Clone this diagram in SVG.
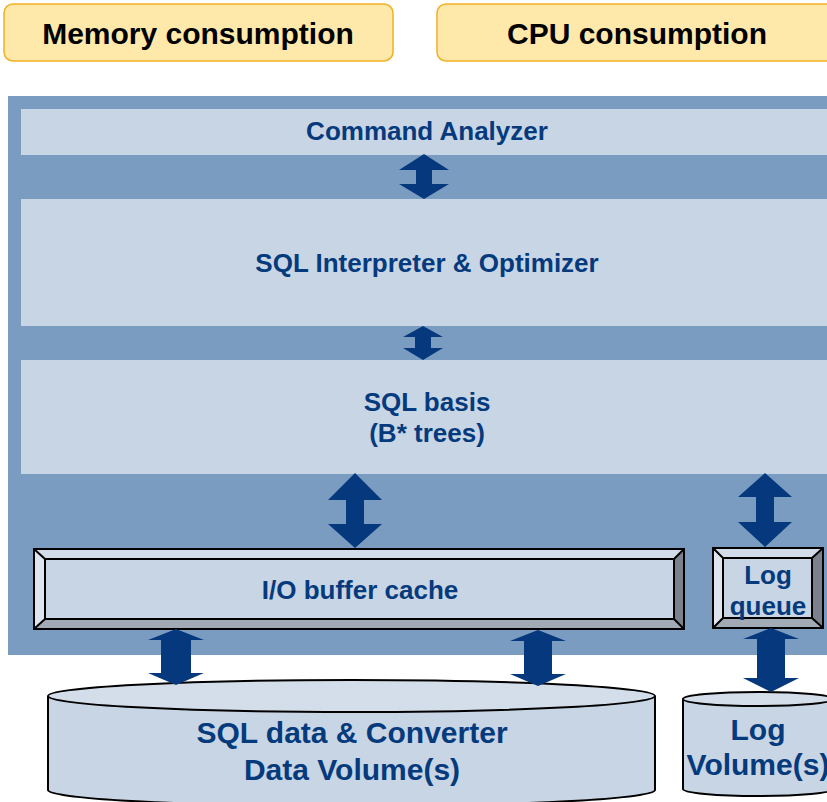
<svg xmlns="http://www.w3.org/2000/svg" width="827" height="802" viewBox="0 0 827 802">
  <style>
    .tag { fill: #FEE8AA; stroke: #F2B024; stroke-width: 1.5; }
    .tagtxt { font-family: "Liberation Sans", Arial, sans-serif; font-weight: bold; font-size: 30px; fill: #000; text-anchor: middle; }
    .panel { fill: #7B9CC1; }
    .band { fill: #C8D5E4; }
    .lbl { font-family: "Liberation Sans", Arial, sans-serif; font-weight: bold; font-size: 26px; fill: #053A7D; text-anchor: middle; }
    .lbl30 { font-family: "Liberation Sans", Arial, sans-serif; font-weight: bold; font-size: 30px; fill: #053A7D; text-anchor: middle; }
    .bev-top { fill: #D2DCE9; }
    .bev-left { fill: #DEE5EF; }
    .bev-right { fill: #7B828D; }
    .bev-bot { fill: #A2AAB5; }
    .bevline { fill: none; stroke: #000; stroke-width: 2; }
    .face { fill: #C8D5E4; stroke: #000; stroke-width: 2; }
    .cyl-body { fill: #C8D5E4; stroke: #000; stroke-width: 2; }
    .cyl-top { fill: #D4DEEA; stroke: #000; stroke-width: 2; }
    .arrow { fill: #05387C; }
  </style>

  <!-- consumption labels -->
  <g id="memory-consumption">
    <rect class="tag" x="4" y="4" width="389" height="57" rx="9"/>
    <text class="tagtxt" x="198" y="44">Memory consumption</text>
  </g>
  <g id="cpu-consumption">
    <rect class="tag" x="437" y="4" width="400" height="57" rx="9"/>
    <text class="tagtxt" x="637" y="44">CPU consumption</text>
  </g>

  <!-- database kernel panel -->
  <g id="kernel">
    <rect class="panel" x="8" y="96" width="830" height="559"/>
  </g>

  <g id="command-analyzer">
    <rect class="band" x="21" y="109" width="817" height="46"/>
    <text class="lbl" x="427" y="140">Command Analyzer</text>
  </g>

  <g id="sql-interpreter">
    <rect class="band" x="21" y="199" width="817" height="127"/>
    <text class="lbl" x="427" y="272">SQL Interpreter &amp; Optimizer</text>
  </g>

  <g id="sql-basis">
    <rect class="band" x="21" y="360" width="817" height="114"/>
    <text class="lbl" x="427" y="411">SQL basis</text>
    <text class="lbl" x="427" y="442">(B* trees)</text>
  </g>

  <!-- bevelled I/O buffer cache -->
  <g id="io-buffer-cache">
    <polygon class="bev-top" points="34,549 684,549 674,559 45,559"/>
    <polygon class="bev-left" points="34,549 45,559 45,619 34,629"/>
    <polygon class="bev-right" points="684,549 684,629 674,619 674,559"/>
    <polygon class="bev-bot" points="34,629 45,619 674,619 684,629"/>
    <rect class="face" x="45" y="559" width="629" height="60"/>
    <rect class="bevline" x="34" y="549" width="650" height="80"/>
    <path class="bevline" d="M34,549 L45,559 M684,549 L674,559 M34,629 L45,619 M684,629 L674,619"/>
    <text class="lbl" x="360" y="599">I/O buffer cache</text>
  </g>

  <!-- bevelled log queue -->
  <g id="log-queue">
    <polygon class="bev-top" points="713,548 823,548 812,558 723,558"/>
    <polygon class="bev-left" points="713,548 723,558 723,618 713,628"/>
    <polygon class="bev-right" points="823,548 823,628 812,618 812,558"/>
    <polygon class="bev-bot" points="713,628 723,618 812,618 823,628"/>
    <rect class="face" x="723" y="558" width="89" height="60"/>
    <rect class="bevline" x="713" y="548" width="110" height="80"/>
    <path class="bevline" d="M713,548 L723,558 M823,548 L812,558 M713,628 L723,618 M823,628 L812,618"/>
    <text class="lbl" x="768" y="584">Log</text>
    <text class="lbl" x="768" y="615">queue</text>
  </g>

  <!-- data volume cylinder -->
  <g id="data-volume">
    <path class="cyl-body" d="M48,696 L48,790 A303.5,16 0 0 0 655,790 L655,696"/>
    <ellipse class="cyl-top" cx="351.5" cy="696" rx="303.5" ry="16"/>
    <text class="lbl30" x="352" y="743">SQL data &amp; Converter</text>
    <text class="lbl30" x="352" y="780">Data Volume(s)</text>
  </g>

  <!-- log volume cylinder -->
  <g id="log-volume">
    <path class="cyl-body" d="M683,699 L683,789 A75,7 0 0 0 833,789 L833,699"/>
    <ellipse class="cyl-top" cx="758" cy="699" rx="75" ry="7"/>
    <text class="lbl30" x="758" y="740">Log</text>
    <text class="lbl30" x="758" y="775">Volume(s)</text>
  </g>

  <!-- double-headed flow arrows -->
  <g id="connectors">
    <polygon class="arrow" points="424,154 449,170 432,170 432,184 449,184 424,199 399,184 416,184 416,170 399,170"/>
    <polygon class="arrow" points="423,326 443,337 431,337 431,348 443,348 423,360 403,348 415,348 415,337 403,337"/>
    <polygon class="arrow" points="355,473 382,500 364,500 364,524 382,524 355,548 328,524 346,524 346,500 328,500"/>
    <polygon class="arrow" points="765,473 792,497 774,497 774,522 792,522 765,547 738,522 756,522 756,497 738,497"/>
    <polygon class="arrow" points="176,629 204,640 191,640 191,673 204,673 176,685 148,673 161,673 161,640 148,640"/>
    <polygon class="arrow" points="538,630 566,641 552,641 552,674 566,674 538,686 510,674 524,674 524,641 510,641"/>
    <polygon class="arrow" points="771,628 799,639 785,639 785,678 799,678 771,692 743,678 757,678 757,639 743,639"/>
  </g>
</svg>
